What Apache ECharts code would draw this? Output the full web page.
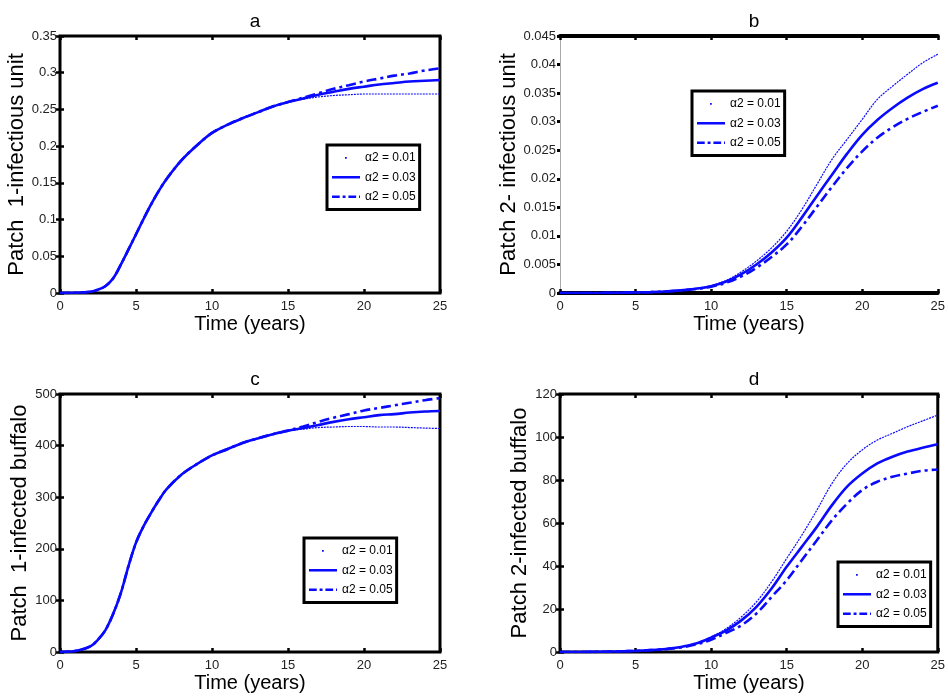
<!DOCTYPE html>
<html><head><meta charset="utf-8">
<script src="https://cdn.jsdelivr.net/npm/echarts@6/dist/echarts.min.js"></script>
<style>html,body{margin:0;padding:0;background:#fff}#c{width:948px;height:700px}</style>
</head><body><div id="c"></div>
<script>
const T = [0,1,2,2.5,3,3.5,4,4.5,5,5.5,6,6.5,7,8,9,10,11,12,13,14,15,16,17,18,19,20,21,22,23,24,25];
const seriesNames = ['α2 = 0.01','α2 = 0.03','α2 = 0.05'];
const panelTitles = ['a','b','c','d'];
const yNames = ['Patch  1-infectious unit','Patch 2- infectious unit','Patch  1-infected buffalo','Patch 2-infected buffalo'];
const xName = 'Time (years)';
const yMax = [0.35,0.045,500,120];
const yStep = [0.05,0.005,100,20];

const a01 = [0,0.0003,0.0018,0.0045,0.0095,0.02,0.0385,0.059,0.08,0.101,0.121,0.139,0.155,0.181,0.201,0.218,0.229,0.238,0.246,0.254,0.26,0.264,0.267,0.269,0.270,0.271,0.271,0.271,0.271,0.271,0.271];
const a03 = [0,0.0003,0.0018,0.0045,0.0095,0.02,0.0385,0.059,0.08,0.101,0.121,0.139,0.155,0.181,0.201,0.218,0.229,0.238,0.246,0.254,0.26,0.265,0.270,0.274,0.278,0.281,0.284,0.286,0.288,0.289,0.290];
const a05 = [0,0.0003,0.0018,0.0045,0.0095,0.02,0.0385,0.059,0.08,0.101,0.121,0.139,0.155,0.181,0.201,0.218,0.229,0.238,0.246,0.254,0.26,0.266,0.272,0.278,0.283,0.288,0.292,0.296,0.299,0.303,0.306];

const b01 = [0,0,0,0,0.00002,0.00003,0.00005,0.00007,0.0001,0.00013,0.00017,0.00022,0.0003,0.0005,0.0008,0.0013,0.0022,0.0037,0.0056,0.0079,0.0108,0.0146,0.019,0.0234,0.0269,0.0304,0.0339,0.0362,0.0383,0.0403,0.0418];
const b03 = [0,0,0,0,0.00002,0.00003,0.00005,0.00007,0.0001,0.00013,0.00016,0.0002,0.00028,0.00046,0.00075,0.0012,0.002,0.0033,0.005,0.0071,0.0097,0.0132,0.017,0.0207,0.0244,0.0277,0.0303,0.0324,0.0342,0.0357,0.0368];
const b05 = [0,0,0,0,0.00002,0.00003,0.00004,0.00006,0.00009,0.00012,0.00015,0.00019,0.00026,0.00043,0.0007,0.0011,0.0018,0.0029,0.0044,0.0063,0.0085,0.0116,0.0151,0.0186,0.0219,0.0248,0.0272,0.029,0.0305,0.0317,0.0328];

const c01 = [0,2,11,24,43,74,114,166,212,244,270,294,315,344,364,381,393,405,414,422,429,432,435,436,437,437,436,436,435,434,433];
const c03 = [0,2,11,24,43,74,114,166,212,244,270,294,315,344,364,381,393,405,414,422,429,434,440,446,451,455,459,461,464,466,467];
const c05 = [0,2,11,24,43,74,114,166,212,244,270,294,315,344,364,381,393,405,414,422,429,437,446,454,461,468,473,478,483,488,492];

const d01 = [0,0,0.05,0.1,0.15,0.2,0.3,0.4,0.5,0.7,0.9,1.1,1.5,2.4,4,7,10.9,16.3,23.3,32.6,43.5,54.3,66,78.4,87.7,94,98.6,101.7,104.8,107.5,110.2];
const d03 = [0,0,0.05,0.1,0.15,0.2,0.3,0.4,0.5,0.7,0.9,1.1,1.4,2.3,3.9,6.7,10,14.7,21,29.5,39.6,48.9,58.2,68.3,76.9,83,87.7,90.8,93.2,95,96.6];
const d05 = [0,0,0.05,0.1,0.15,0.2,0.3,0.4,0.5,0.7,0.85,1.0,1.3,2.1,3.5,5.7,8.9,12.4,17.9,25.6,33.4,42.7,52,61.3,69,75.3,79.2,81.5,83,84.3,84.9];

const panelData = [[a01,a03,a05],[b01,b03,b05],[c01,c03,c05],[d01,d03,d05]];

// layout
const FONT = 'Liberation Sans, Arial, sans-serif';
const BLUE = '#0a0aff';
const grids = [
  {left:60, top:36, width:380, height:257},
  {left:560, top:36, width:380, height:257},
  {left:60, top:394, width:380, height:258},
  {left:560, top:394, width:380, height:258}
];
const titlePos = [[250,7],[749,7],[250,365],[749,365]];
const yNameGap = [30,35,27,27];
const legendPos = [[327,145],[692,91],[304,538],[838,562]];
const lineStyles = [
  {width:1.2, type:[2,1]},
  {width:2.6, type:'solid'},
  {width:2.6, type:[10,4,3,4]}
];
const legendIcons = [
  'path://M0,0M29,14M13.5,6.3h1.8v1.8h-1.8z',
  'path://M0,0M29,14M0,5.7h29v2.6h-29z',
  'path://M0,0M29,14M0,5.7h8v2.6h-8zM11,5.7h3v2.6h-3zM17,5.7h8v2.6h-8zM28,5.7h1v2.6h-1z'
];

const option = {
  animation:false,
  backgroundColor:'#fff',
  textStyle:{fontFamily:FONT},
  title:[], grid:[], xAxis:[], yAxis:[], series:[], legend:[]
};

const tickStyle = {show:true, inside:true, length:4, lineStyle:{color:'#000', width:2.5}};

grids.forEach((g,i)=>{
  const isB = i===1;
  option.grid.push(Object.assign({show:!isB, borderColor:'#000', borderWidth:3, backgroundColor:'transparent', containLabel:false}, g));
  option.title.push({text:panelTitles[i], left:titlePos[i][0], top:titlePos[i][1], textAlign:'center',
    textStyle:{fontFamily:FONT, fontSize:19, fontWeight:'normal', color:'#000'}});
  option.xAxis.push({type:'value', gridIndex:i, min:0, max:25, interval:5, position:'bottom',
    name:xName, nameLocation:'middle', nameGap:21,
    nameTextStyle:{fontFamily:FONT, fontSize:20, color:'#000'},
    axisLine:{show:isB, onZero:false, lineStyle:{color:'#000', width:4}},
    axisTick:tickStyle, splitLine:{show:false},
    axisLabel:{fontFamily:FONT, fontSize:13, color:'#222', margin:7}});
  option.xAxis.push({type:'value', gridIndex:i, min:0, max:25, interval:5, position:'top',
    axisLine:{show:isB, onZero:false, lineStyle:{color:'#000', width:4}},
    axisTick:tickStyle, splitLine:{show:false}, axisLabel:{show:false}});
  option.yAxis.push({type:'value', gridIndex:i, min:0, max:yMax[i], interval:yStep[i], position:'left',
    name:yNames[i], nameLocation:'middle', nameGap:yNameGap[i],
    nameTextStyle:{fontFamily:FONT, fontSize:22, color:'#000'},
    axisLine:{show:isB, onZero:false, lineStyle:{color:'#aaa', width:1}},
    axisTick:isB ? {show:true, inside:false, length:3, lineStyle:{color:'#000', width:3}} : tickStyle,
    splitLine:{show:false},
    axisLabel:{fontFamily:FONT, fontSize:13, color:'#222', margin:isB?4:3}});
  option.yAxis.push({type:'value', gridIndex:i, min:0, max:yMax[i], interval:yStep[i], position:'right',
    axisLine:{show:false},
    axisTick:isB ? {show:true, inside:true, length:3, lineStyle:{color:'#000', width:3}} : tickStyle,
    splitLine:{show:false}, axisLabel:{show:false}});

  panelData[i].forEach((arr,k)=>{
    option.series.push({
      type:'line', name:seriesNames[k], xAxisIndex:i*2, yAxisIndex:i*2,
      data:T.map((t,j)=>[t,arr[j]]), showSymbol:false, symbol:'none',
      smooth:0.35, z:3-k,
      lineStyle:Object.assign({color:BLUE}, lineStyles[k]),
      itemStyle:{color:BLUE}
    });
  });

  option.legend.push({
    left:legendPos[i][0], top:legendPos[i][1], orient:'vertical',
    backgroundColor:'#fff', borderColor:'#000', borderWidth:3,
    padding:[6,4,6,5], itemGap:6, itemWidth:28, itemHeight:14,
    selectedMode:false,
    textStyle:{fontFamily:FONT, fontSize:12, color:'#000'},
    data:seriesNames.map((n,k)=>({name:n, icon:legendIcons[k], itemStyle:{color:BLUE, borderWidth:0}}))
  });
});

const chart = echarts.init(document.getElementById('c'), null, {renderer:'canvas'});
chart.setOption(option);
</script>
</body></html>
